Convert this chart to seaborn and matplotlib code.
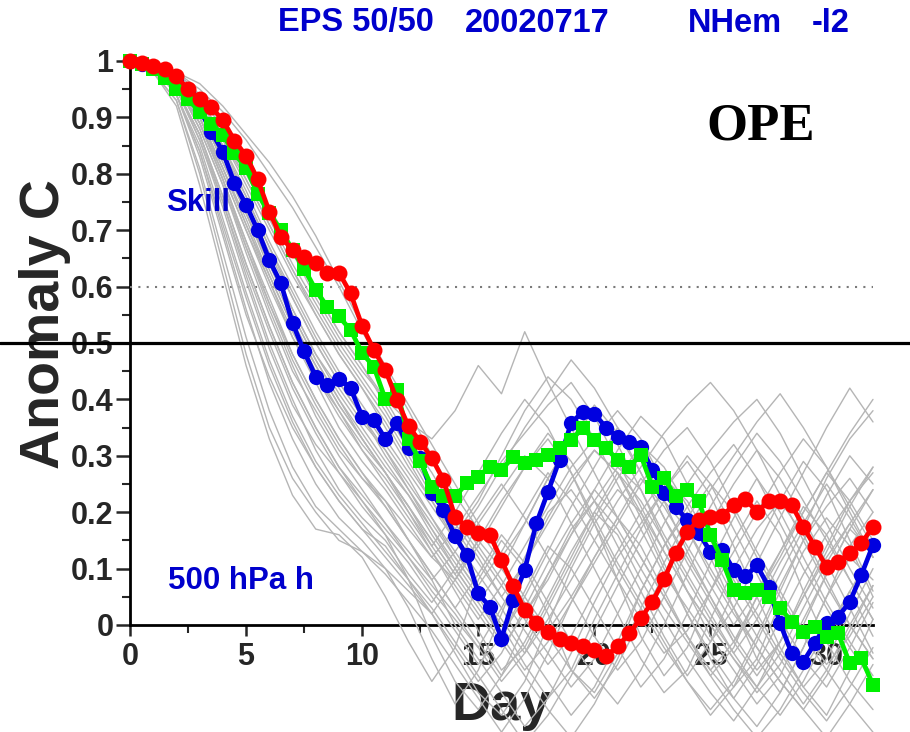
import numpy as np
import pandas as pd
import matplotlib
matplotlib.use("Agg")
import matplotlib.pyplot as plt
from matplotlib.ticker import MultipleLocator, FixedLocator
import seaborn as sns

# ---------------- data ----------------
days_half = [i * 0.5 for i in range(65)]          # 0 .. 32 in half-day steps
days_full = list(range(33))                        # 0 .. 32 daily (ensemble members)

skill_blue = [1.00, 0.995, 0.99, 0.98, 0.965, 0.945, 0.915, 0.875, 0.839, 0.783,
              0.745, 0.70, 0.647, 0.606, 0.535, 0.485, 0.44, 0.426, 0.437, 0.42,
              0.369, 0.363, 0.33, 0.358, 0.314, 0.296, 0.234, 0.204, 0.157, 0.124,
              0.056, 0.032, -0.024, 0.044, 0.098, 0.18, 0.236, 0.293, 0.358, 0.378,
              0.375, 0.35, 0.334, 0.325, 0.316, 0.275, 0.234, 0.21, 0.186, 0.163,
              0.13, 0.133, 0.098, 0.086, 0.106, 0.068, 0.003, -0.05, -0.065, -0.032,
              0.003, 0.015, 0.041, 0.089, 0.142]

skill_red = [1.0, 0.996, 0.991, 0.985, 0.973, 0.95, 0.932, 0.918, 0.895, 0.859,
             0.832, 0.79, 0.733, 0.688, 0.665, 0.653, 0.641, 0.624, 0.625, 0.588,
             0.53, 0.488, 0.452, 0.399, 0.352, 0.325, 0.296, 0.257, 0.192, 0.174,
             0.163, 0.16, 0.115, 0.069, 0.027, 0.003, -0.012, -0.024, -0.032, -0.038,
             -0.044, -0.055, -0.038, -0.015, 0.012, 0.041, 0.081, 0.128, 0.165, 0.187,
             0.192, 0.193, 0.213, 0.223, 0.201, 0.219, 0.219, 0.213, 0.174, 0.139,
             0.103, 0.112, 0.127, 0.145, 0.174]

skill_green = [1.0, 0.995, 0.985, 0.97, 0.95, 0.932, 0.91, 0.889, 0.869, 0.836,
               0.81, 0.765, 0.73, 0.70, 0.665, 0.632, 0.594, 0.564, 0.547, 0.523,
               0.482, 0.458, 0.40, 0.417, 0.33, 0.29, 0.245, 0.228, 0.228, 0.251,
               0.263, 0.281, 0.275, 0.298, 0.287, 0.293, 0.301, 0.313, 0.328, 0.349,
               0.328, 0.313, 0.293, 0.281, 0.301, 0.245, 0.26, 0.228, 0.239, 0.219,
               0.16, 0.115, 0.062, 0.056, 0.062, 0.05, 0.03, 0.006, -0.012, -0.003,
               -0.021, -0.015, -0.068, -0.059, -0.106]

# ensemble members (anomaly correlation x 100, one value per day)
m01 = [100,98,92,78,62,46,33,23,17,16,12,5,-3,-10,-4,8,15,10,2,-8,-12,-5,6,14,20,12,3,-6,-12,-4,5,12,8]
m02 = [100,99,94,84,70,56,43,33,25,19,15,10,3,-6,-14,-8,2,12,20,24,18,8,-2,-9,-4,6,15,22,16,6,-3,-10,-15]
m03 = [100,99,94,83,69,55,44,35,28,22,17,14,8,2,-5,-12,-16,-10,0,10,18,24,20,11,2,-5,-11,-6,4,13,19,14,5]
m04 = [100,99,95,87,75,62,50,40,31,24,19,15,9,4,10,18,24,30,26,18,10,2,-6,-12,-8,1,10,17,22,16,8,0,-6]
m05 = [100,99,95,86,74,61,49,39,32,27,22,16,8,-2,-10,-15,-9,0,9,17,22,28,24,15,6,-2,-8,-14,-9,0,9,17,24]
m06 = [100,99,96,89,79,67,56,46,37,30,24,18,12,6,1,-4,3,11,19,26,31,27,19,10,2,-6,-13,-18,-12,-4,5,14,20]
m07 = [100,99,96,88,78,66,55,45,38,31,26,22,15,8,0,-6,-12,-18,-13,-5,4,12,18,24,29,23,14,5,-4,-11,-16,-8,1]
m08 = [100,99,96,90,81,71,61,51,43,35,29,24,18,12,8,14,21,28,34,29,22,14,6,-2,-9,-3,6,14,22,29,24,15,6]
m09 = [100,99,96,90,80,70,60,51,44,38,31,26,20,13,6,-1,-8,-4,4,12,20,16,8,1,-6,-12,-17,-11,-3,6,14,22,28]
m10 = [100,99,97,91,83,74,64,55,47,40,34,28,23,17,11,5,-2,5,13,21,28,35,30,22,13,5,-3,-9,-3,5,12,18,12]
m11 = [100,99,97,91,82,73,63,54,46,39,33,27,20,14,20,27,34,40,35,27,18,10,3,-4,-10,-15,-10,-2,7,15,21,26,20]
m12 = [100,99,97,92,85,76,67,59,51,44,38,32,26,19,12,6,0,-7,-13,-8,1,9,17,24,30,25,17,9,1,-6,-11,-4,4]
m13 = [100,99,97,92,84,75,66,58,50,43,37,31,24,17,10,4,10,18,26,33,38,32,24,16,9,2,-5,1,9,17,26,33,38]
m14 = [100,99,97,93,87,79,71,63,55,48,42,36,29,22,15,9,3,-4,-10,-16,-11,-3,6,14,21,27,32,26,18,10,3,-4,-10]
m15 = [100,99,97,93,86,78,70,62,55,48,42,35,28,22,16,22,30,38,44,40,33,25,17,9,3,-3,3,11,19,27,35,42,36]
m16 = [100,99,98,94,89,82,74,67,59,52,46,40,33,27,20,14,8,2,8,16,24,31,37,33,25,17,9,2,-5,-11,-6,2,10]
m17 = [100,99,98,94,88,81,73,66,58,51,45,40,36,33,38,46,41,52,43,35,27,19,12,5,-2,-8,-3,5,12,20,27,22,15]
m18 = [100,100,98,96,92,87,82,76,69,61,53,46,39,32,25,18,12,18,26,33,39,34,27,19,12,5,-2,-8,-3,5,13,21,28]
m19 = [100,98,93,80,64,48,35,26,20,15,13,9,4,-1,-7,-13,-19,-13,-5,4,12,19,14,6,-2,-9,-4,5,13,21,16,8,1]
m20 = [100,99,94,84,71,58,46,36,28,22,17,12,7,2,8,15,22,28,33,27,19,11,4,-3,-10,-16,-11,-3,6,15,23,30,25]
m21 = [100,99,95,86,75,63,52,42,34,27,21,16,11,5,-1,-7,-2,6,14,10,3,-4,-11,-6,2,11,19,26,20,12,4,-3,-9]
m22 = [100,99,96,89,79,68,57,47,39,32,26,21,15,9,3,9,16,11,4,-3,-9,-14,-8,0,9,18,25,31,26,19,11,3,-5]
m23 = [100,99,96,90,81,71,62,53,45,38,32,27,21,15,9,3,-3,-9,-15,-20,-14,-6,3,11,19,25,20,12,5,-2,-8,-14,-19]
m24 = [100,99,97,91,83,74,65,56,48,41,35,29,23,16,10,4,-2,-8,-3,4,11,18,25,31,35,29,21,13,6,-1,-7,-2,5]
m25 = [100,99,97,92,85,77,68,60,52,45,39,33,27,21,15,21,28,35,41,47,42,35,27,19,11,4,-3,3,11,18,25,19,12]
m26 = [100,99,97,93,87,80,72,64,57,50,44,38,31,24,18,12,5,-1,-7,-2,6,13,20,26,22,15,8,1,-6,-12,-17,-11,-4]
m27 = [100,99,95,87,76,64,53,43,35,28,22,17,12,7,2,-4,-10,-5,3,11,19,26,32,28,21,13,5,-2,-8,-14,-8,0,7]
m28 = [100,99,96,88,78,67,57,48,40,33,27,22,17,12,17,23,29,34,39,43,37,29,21,13,6,0,-6,-11,-5,3,11,18,24]
m29 = [100,99,96,90,81,72,62,53,46,39,33,27,21,14,8,2,-4,2,9,16,22,17,10,3,-3,-9,-15,-20,-15,-8,-1,6,13]
m30 = [100,99,97,91,82,73,64,56,48,42,36,31,25,19,13,7,13,20,27,22,15,8,1,-5,-1,6,13,20,27,33,28,21,14]
m31 = [100,99,98,94,88,81,74,66,59,52,46,39,32,25,19,13,7,1,-5,-11,-6,2,10,18,25,31,36,40,34,26,18,10,3]
m32 = [100,98,93,81,66,51,38,28,21,17,13,10,6,2,-4,-10,-5,3,11,18,24,19,12,5,-2,-8,-13,-7,1,9,16,22,27]
m33 = [100,99,94,85,72,59,47,37,29,23,18,13,8,3,-3,-9,-15,-21,-16,-9,-1,7,15,22,17,10,3,-4,-10,-15,-9,-1,7]
m34 = [100,99,97,92,84,76,67,58,50,43,37,30,24,18,12,6,1,-5,1,8,15,22,28,34,39,43,38,31,23,15,7,0,-6]
m35 = [100,99,97,93,86,79,71,63,56,49,43,37,30,23,17,11,5,11,18,25,31,27,20,13,6,0,-6,-12,-7,1,9,17,13]
m36 = [100,99,96,89,80,70,61,52,44,37,31,25,19,13,7,1,7,14,21,28,33,38,33,25,17,9,2,-4,-10,-15,-20,-14,-7]
m37 = [100,99,97,91,83,73,64,55,47,40,33,27,21,15,9,15,10,4,-2,-8,-13,-7,1,9,17,24,30,36,41,35,28,20,12]
m38 = [100,100,98,95,91,86,80,74,67,60,52,45,38,30,23,17,11,5,-1,5,12,19,26,21,14,7,0,6,13,20,27,34,40]
m39 = [100,99,96,89,79,68,58,48,40,33,27,21,15,9,3,-3,-9,-3,5,13,20,27,22,15,8,1,-5,-11,-16,-10,-2,6,-2]
m40 = [100,99,95,87,76,64,53,43,35,28,23,18,13,8,13,19,25,19,12,5,-2,-8,-3,5,13,21,28,34,29,22,15,8,1]

members = [m01, m02, m03, m04, m05, m06, m07, m08, m09, m10,
           m11, m12, m13, m14, m15, m16, m17, m18, m19, m20,
           m21, m22, m23, m24, m25, m26, m27, m28, m29, m30,
           m31, m32, m33, m34, m35, m36, m37, m38, m39, m40]

y_ticks = [0, 0.1, 0.2, 0.3, 0.4, 0.5, 0.6, 0.7, 0.8, 0.9, 1.0]
y_ticklabels = ["0", "0.1", "0.2", "0.3", "0.4", "0.5", "0.6", "0.7", "0.8", "0.9", "1"]
x_ticks = [0, 5, 10, 15, 20, 25, 30]
x_ticklabels = ["0", "5", "10", "15", "20", "25", "30"]

# ---------------- style ----------------
sns.set_style("ticks")
plt.rcParams["font.family"] = ["Liberation Sans", "DejaVu Sans"]
plt.rcParams["font.weight"] = "bold"

W, H = 910, 732
fig = plt.figure(figsize=(W / 100, H / 100), dpi=100)
ax = fig.add_axes([130 / W, 1 - 625 / H, 743 / W, (625 - 61) / H])

ens = pd.DataFrame([
    {"member": k, "day": d, "acc": v / 100.0}
    for k, m in enumerate(members) for d, v in zip(days_full, m)
])

GRAY = "#b5b5b5"
sns.lineplot(data=ens, x="day", y="acc", units="member", estimator=None,
             color=GRAY, lw=1.0, ax=ax, clip_on=False, zorder=3, legend=False)

BLUE = "#0000e0"
RED = "#ff0000"
GREEN = "#00f000"
sns.lineplot(x=days_half, y=skill_blue, color=BLUE, lw=3.4, marker="o",
             markersize=11, markeredgecolor=BLUE, markeredgewidth=0,
             ax=ax, clip_on=False, zorder=5)
sns.lineplot(x=days_half, y=skill_green, color=GREEN, lw=3.4, marker="s",
             markersize=10, markeredgecolor=GREEN, markeredgewidth=0,
             ax=ax, clip_on=False, zorder=6)
sns.lineplot(x=days_half, y=skill_red, color=RED, lw=3.4, marker="o",
             markersize=11.5, markeredgecolor=RED, markeredgewidth=0,
             ax=ax, clip_on=False, zorder=7)

# reference lines
ax.axhline(0.6, xmin=0, xmax=1, color="#7a7a7a", lw=1.5, ls=(0, (1, 3)), zorder=2.6)
ax.axhline(0.5, xmin=-130 / 743, xmax=(W - 130) / 743, color="black", lw=2.3,
           clip_on=False, zorder=4)

ax.set_xlim(0, 32)
ax.set_ylim(0, 1)
sns.despine(ax=ax, top=True, right=True)
for s in ["left", "bottom"]:
    ax.spines[s].set_linewidth(2.0)
    ax.spines[s].set_color("black")
    ax.spines[s].set_zorder(2.5)

ax.yaxis.set_major_locator(FixedLocator(y_ticks))
ax.set_yticklabels(y_ticklabels)
ax.yaxis.set_minor_locator(MultipleLocator(0.05))
ax.xaxis.set_major_locator(FixedLocator(x_ticks))
ax.set_xticklabels(x_ticklabels)
ax.xaxis.set_minor_locator(MultipleLocator(2.5))

ax.tick_params(axis="y", which="major", direction="out", length=10, width=1.8,
               labelsize=22, pad=2)
ax.tick_params(axis="y", which="minor", direction="out", length=6, width=1.5)
ax.tick_params(axis="x", which="major", direction="out", length=8, width=1.8,
               labelsize=22, pad=4)
ax.tick_params(axis="x", which="minor", direction="out", length=6, width=1.5)
for lab in ax.get_xticklabels() + ax.get_yticklabels():
    lab.set_fontweight("bold")

ax.set_ylabel("Anomaly C", fontsize=40, fontweight="bold")
ax.yaxis.label.set_va("center")
ax.yaxis.set_label_coords((45 - 130) / 743, (625 - 324) / 564)
ax.set_xlabel("Day", fontsize=39, fontweight="bold")
ax.xaxis.label.set_va("center")
ax.xaxis.set_label_coords(0.5, (625 - 706) / 564)

# title pieces
TBLUE = "#0000cc"
for txt, xpx in [("EPS 50/50", 278), ("20020717", 465), ("NHem", 688), ("-l2", 812)]:
    fig.text(xpx / W, 1 - 23 / H, txt, color=TBLUE, fontsize=23.5,
             fontweight="bold", ha="left", va="center")

fig.text(198 / W, 1 - 203 / H, "Skill", color=TBLUE, fontsize=22.5,
         fontweight="bold", ha="center", va="center", zorder=10)
fig.text(241 / W, 1 - 581 / H, "500 hPa h", color=TBLUE, fontsize=22.5,
         fontweight="bold", ha="center", va="center", zorder=10)
fig.text(761 / W, 1 - 127 / H, "OPE", color="black", fontsize=38,
         fontweight="bold", family=["Liberation Serif", "DejaVu Serif"],
         ha="center", va="center")

fig.savefig("out.png", dpi=100)
